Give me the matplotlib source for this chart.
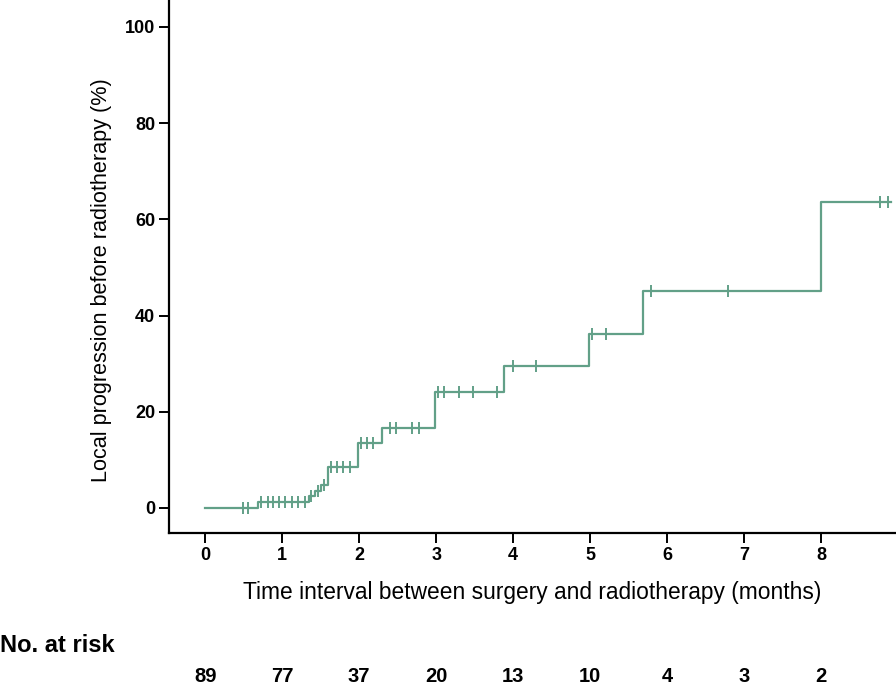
import numpy as np
import matplotlib
matplotlib.use('Agg')
import matplotlib.pyplot as plt

# curva de Kaplan-Meier (incidencia acumulada de progresion local)
tiempos_evento = [0, 0.68, 1.35, 1.42, 1.50, 1.59, 1.99, 2.30, 2.99, 3.88, 4.99, 5.69, 7.99]
progresion = [0, 1.2, 2.4, 3.6, 4.8, 8.5, 13.6, 16.6, 24.2, 29.5, 36.2, 45.2, 63.6]
tiempo_final = 8.9

# pacientes censurados
tiempos_censura = [0.49, 0.56, 0.72, 0.81, 0.88, 0.96, 1.04, 1.13, 1.21, 1.30,
                   1.38, 1.46, 1.54, 1.63, 1.71, 1.79, 1.88, 2.02, 2.10, 2.18,
                   2.40, 2.48, 2.69, 2.77, 3.02, 3.10, 3.29, 3.48, 3.79, 4.00,
                   4.30, 5.02, 5.20, 5.79, 6.79, 8.76, 8.87]

# numero en riesgo
meses = [0, 1, 2, 3, 4, 5, 6, 7, 8]
en_riesgo = [89, 77, 37, 20, 13, 10, 4, 3, 2]

color = '#62a088'
fuente = ['Liberation Sans', 'DejaVu Sans']

fig = plt.figure(figsize=(8.96, 6.87), dpi=100)
ax = fig.add_axes([169 / 896, 1 - 533 / 687, 1 - 169 / 896, 533 / 687])

x = tiempos_evento + [tiempo_final]
y = progresion + [progresion[-1]]
ax.step(x, y, where='post', color=color, lw=1.6)

idx = np.searchsorted(tiempos_evento, tiempos_censura, side='right') - 1
y_cens = np.array(progresion)[idx]
ax.plot(tiempos_censura, y_cens, ls='none', marker='|', ms=9, mew=1.4, color=color)

ax.set_xlim(-0.47, 8.97)
ax.set_ylim(-5.2, 105.6)
ax.set_xticks(meses)
ax.set_yticks([0, 20, 40, 60, 80, 100])

for s in ['top', 'right']:
    ax.spines[s].set_visible(False)
for s in ['left', 'bottom']:
    ax.spines[s].set_linewidth(1.6)
ax.tick_params(direction='out', length=7, width=1.4, pad=3)
for lab in ax.get_xticklabels() + ax.get_yticklabels():
    lab.set_family(fuente)
    lab.set_fontweight('bold')
    lab.set_fontsize(13)

ax.set_xlabel('Time interval between surgery and radiotherapy (months)',
              family=fuente, fontsize=16.4, labelpad=12)
ax.set_ylabel('Local progression before radiotherapy (%)',
              family=fuente, fontsize=15.6)
ax.yaxis.set_label_coords(-0.078, 0.475)

fig.text(0.0, 1 - 645 / 687, 'No. at risk', family=fuente, fontweight='bold',
         fontsize=17, ha='left', va='center')
for m, n in zip(meses, en_riesgo):
    ax.annotate(str(n), xy=(m, 0), xycoords=('data', 'figure fraction'),
                xytext=(0, 687 - 676), textcoords='offset pixels',
                ha='center', va='center', family=fuente,
                fontweight='bold', fontsize=14.5)

fig.savefig('out.png', dpi=100)
